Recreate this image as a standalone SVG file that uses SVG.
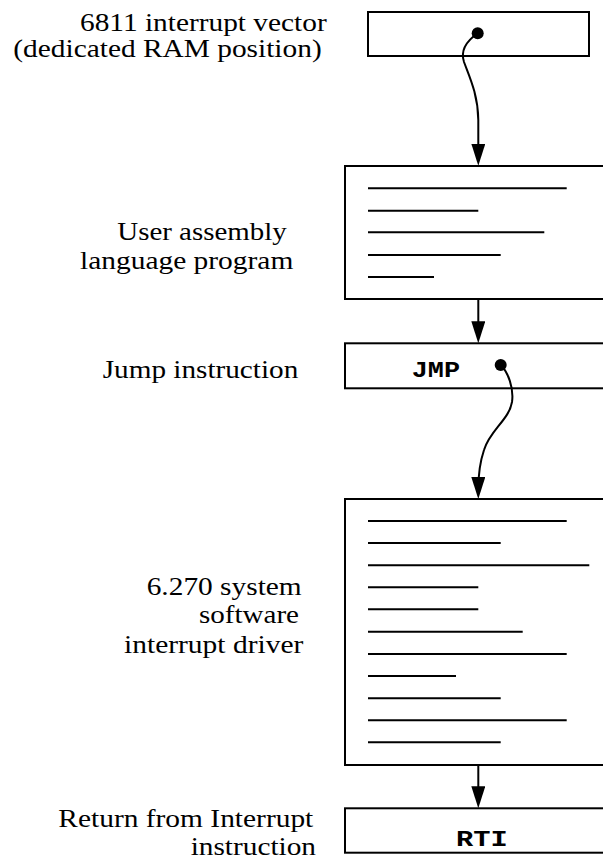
<svg xmlns="http://www.w3.org/2000/svg" width="603" height="860" viewBox="0 0 603 860">
<style>
.box{fill:#fff;stroke:#000;stroke-width:2}
.ln{stroke:#000;stroke-width:2}
.lbl{font-family:"Liberation Serif","Times New Roman",serif;font-size:26px;fill:#000}
.code{font-family:"Liberation Mono","Courier New",monospace;font-weight:bold;font-size:22px;fill:#000}
.con{fill:none;stroke:#000;stroke-width:2}
</style>
<defs>
<marker id="ah" markerUnits="userSpaceOnUse" markerWidth="24" markerHeight="16" refX="12" refY="7" orient="auto" viewBox="0 0 24 16">
<path d="M0,0 L22,7 L0,14 z" fill="#000"/>
</marker>
</defs>
<rect width="603" height="860" fill="#fff"/>
<g id="node-vector">
<rect class="box" x="368" y="12" width="221" height="44"/>
<text class="lbl" x="80" y="30.7" textLength="246.7" lengthAdjust="spacingAndGlyphs">6811 interrupt vector</text>
<text class="lbl" x="13.3" y="56.7" textLength="308.4" lengthAdjust="spacingAndGlyphs">(dedicated RAM position)</text>
</g>
<g id="node-user">
<rect class="box" x="345" y="166" width="270" height="133"/>
<line class="ln" x1="368" y1="188.3" x2="566.7" y2="188.3"/>
<line class="ln" x1="368" y1="210.7" x2="478.3" y2="210.7"/>
<line class="ln" x1="368" y1="232.3" x2="544.3" y2="232.3"/>
<line class="ln" x1="368" y1="255" x2="500.7" y2="255"/>
<line class="ln" x1="368" y1="277" x2="434" y2="277"/>
<text class="lbl" x="117.3" y="240" textLength="169.4" lengthAdjust="spacingAndGlyphs">User assembly</text>
<text class="lbl" x="80" y="269.3" textLength="213.3" lengthAdjust="spacingAndGlyphs">language program</text>
</g>
<g id="node-jmp">
<rect class="box" x="345" y="343.3" width="270" height="45"/>
<text class="code" x="411.7" y="377" textLength="48.3" lengthAdjust="spacingAndGlyphs">JMP</text>
<text class="lbl" x="102.7" y="378.3" textLength="195.6" lengthAdjust="spacingAndGlyphs">Jump instruction</text>
</g>
<g id="node-driver">
<rect class="box" x="345" y="499" width="270" height="266"/>
<line class="ln" x1="368" y1="521" x2="566.7" y2="521"/>
<line class="ln" x1="368" y1="543" x2="500.7" y2="543"/>
<line class="ln" x1="368" y1="565.3" x2="589.3" y2="565.3"/>
<line class="ln" x1="368" y1="587.3" x2="478.3" y2="587.3"/>
<line class="ln" x1="368" y1="609.3" x2="478.3" y2="609.3"/>
<line class="ln" x1="368" y1="631.7" x2="522.7" y2="631.7"/>
<line class="ln" x1="368" y1="654" x2="566.7" y2="654"/>
<line class="ln" x1="368" y1="676" x2="456" y2="676"/>
<line class="ln" x1="368" y1="698.3" x2="500.7" y2="698.3"/>
<line class="ln" x1="368" y1="720.3" x2="566.7" y2="720.3"/>
<line class="ln" x1="368" y1="742.3" x2="500.7" y2="742.3"/>
<text class="lbl" x="146.7" y="595" textLength="155" lengthAdjust="spacingAndGlyphs">6.270 system</text>
<text class="lbl" x="199" y="622.7" textLength="100" lengthAdjust="spacingAndGlyphs">software</text>
<text class="lbl" x="124" y="653.3" textLength="179.3" lengthAdjust="spacingAndGlyphs">interrupt driver</text>
</g>
<g id="node-rti">
<rect class="box" x="345" y="808.3" width="270" height="44.4"/>
<text class="code" x="456" y="846" textLength="51.7" lengthAdjust="spacingAndGlyphs">RTI</text>
<text class="lbl" x="58.3" y="827.3" textLength="255" lengthAdjust="spacingAndGlyphs">Return from Interrupt</text>
<text class="lbl" x="190.7" y="855" textLength="125.3" lengthAdjust="spacingAndGlyphs">instruction</text>
</g>
<g id="connectors">
<circle cx="477.7" cy="33.3" r="6" fill="#000"/>
<path class="con" marker-end="url(#ah)" d="M477.7,33.3 C468,40 460,50 464,62 C470,78 478,95 478.3,120 L478.3,155.7"/>
<line class="con" x1="478.3" y1="299" x2="478.3" y2="333.3" marker-end="url(#ah)"/>
<circle cx="500.7" cy="365" r="6" fill="#000"/>
<path class="con" marker-end="url(#ah)" d="M500.7,365 C508,372 514,388 512,402 C509,420 490,430 484,450 C479,465 478.3,475 478.3,489"/>
<line class="con" x1="478.3" y1="765" x2="478.3" y2="798.3" marker-end="url(#ah)"/>
</g>
</svg>
